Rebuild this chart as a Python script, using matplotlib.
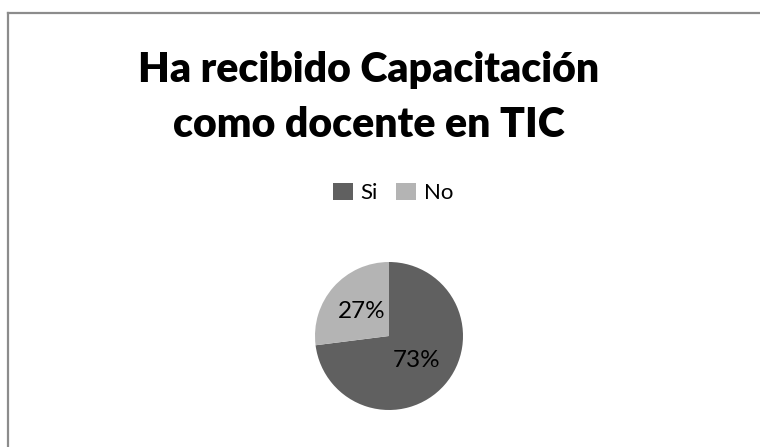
import matplotlib.pyplot as plt
from matplotlib.lines import Line2D
from matplotlib.patches import Patch

# --- data ---
labels = ["Si", "No"]
shares = [73, 27]
colors = ["#606060", "#b4b4b4"]
title_lines = ["Ha recibido Capacitación", "como docente en TIC"]

W, H = 760, 447
plt.rcParams['font.family'] = ['Lato', 'DejaVu Sans']

fig = plt.figure(figsize=(W / 100, H / 100), dpi=100)

def fx(px):
    return px / W

def fy(py):
    return 1 - py / H

# chart area border (only top and left edges fall inside the frame)
fig.add_artist(Line2D([fx(7.5), 1], [fy(12.5), fy(12.5)], color="#8c8c8c", lw=1.6))
fig.add_artist(Line2D([fx(7.5), fx(7.5)], [fy(12.5), 0], color="#8c8c8c", lw=1.6))

# title, two centred lines
fig.text(fx(369), fy(82), title_lines[0], ha="center", va="baseline",
         fontsize=29.5, fontweight="heavy", color="black")
fig.text(fx(369), fy(137), title_lines[1], ha="center", va="baseline",
         fontsize=29.5, fontweight="heavy", color="black")

# pie
cx, cy, r = 389, 336, 74
ax = fig.add_axes([fx(cx - r), fy(cy + r), (2 * r) / W, (2 * r) / H])
wedges, texts, autotexts = ax.pie(
    shares, colors=colors, startangle=90, counterclock=False,
    autopct="%d%%", pctdistance=0.5,
    textprops=dict(fontsize=17.5, color="black"))
ax.set_aspect("equal")
ax.set_xlim(-1, 1)
ax.set_ylim(-1, 1)
ax.axis("off")

# legend
handles = [Patch(facecolor=c, edgecolor="none", label=l) for c, l in zip(colors, labels)]
fig.legend(handles=handles, loc="center", bbox_to_anchor=(fx(393), fy(193)),
           ncol=2, frameon=False, fontsize=16, handlelength=0.9, handleheight=0.85,
           handletextpad=0.35, columnspacing=0.8, borderpad=0)

fig.savefig("out.png", dpi=100)
